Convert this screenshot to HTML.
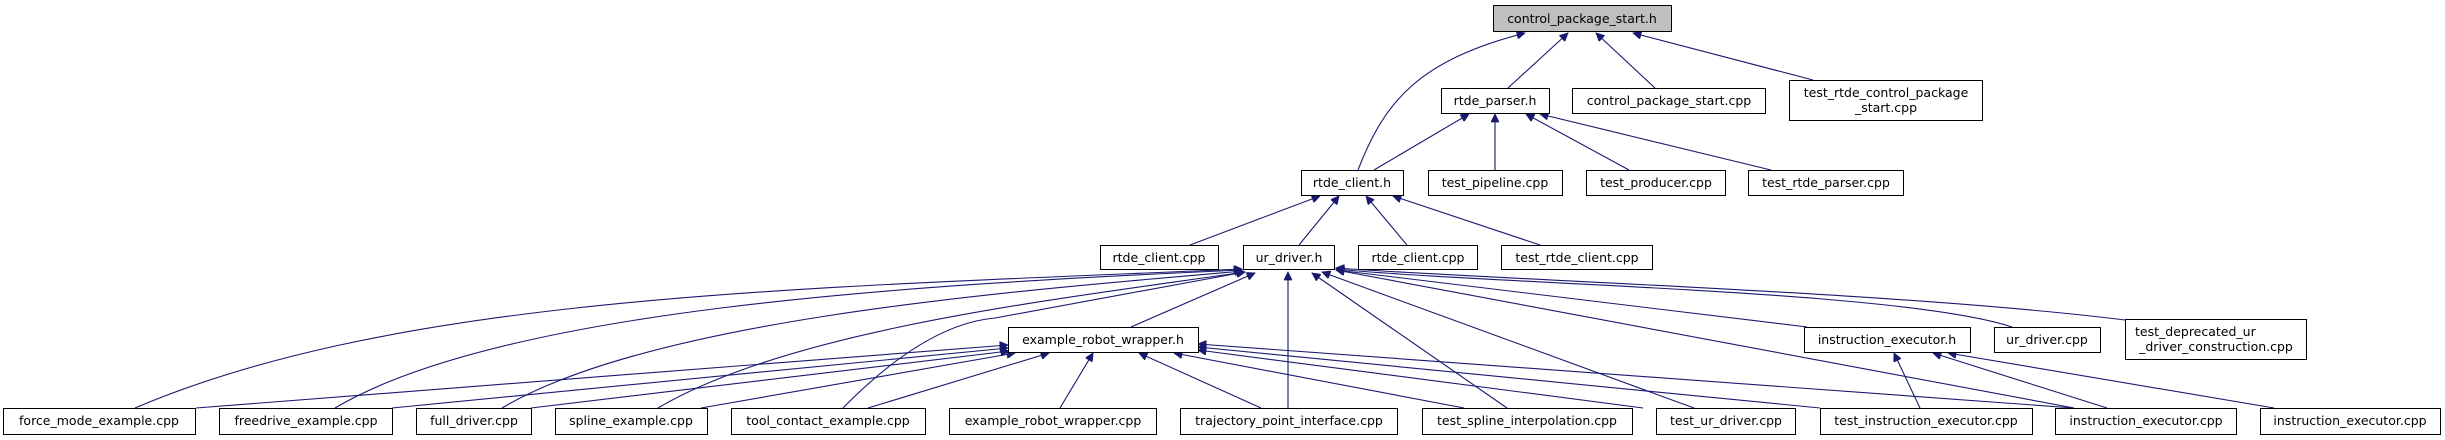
<!DOCTYPE html>
<html><head><meta charset="utf-8"><style>
html,body{margin:0;padding:0;background:#fff;}
svg{display:block;}
text{font-family:"DejaVu Sans","Liberation Sans",sans-serif;font-size:12.5px;fill:#000;}
.b{fill:#fff;stroke:#000;stroke-width:1;}
.e{fill:none;stroke:#191970;stroke-width:1.1;}
</style></head><body>
<svg width="2445" height="440" viewBox="0 0 2445 440" xmlns="http://www.w3.org/2000/svg">
<defs>
<marker id="a" viewBox="0 0 10 10" refX="10" refY="5" markerWidth="11" markerHeight="8" markerUnits="userSpaceOnUse" orient="auto">
<path d="M0,0 L10,5 L0,10 z" fill="#191970" stroke="#191970"/>
</marker>
</defs>
<g class="e" marker-end="url(#a)">
<path d="M1358,170 C1385,100 1420,60 1525,33"/>
<path d="M1508,88 L1568,33"/>
<path d="M1655,88 L1596,33"/>
<path d="M1813,80 L1633,33"/>
<path d="M1374,170 L1469,114"/>
<path d="M1495,170 L1495,114"/>
<path d="M1629,170 L1526,114"/>
<path d="M1771,170 L1540,114"/>
<path d="M1190,245 L1320,196"/>
<path d="M1299,245 L1339,196"/>
<path d="M1407,245 L1366,196"/>
<path d="M1540,245 L1393,196"/>
<path d="M135,408 C400,295 800,288 1242,269"/>
<path d="M335,408 C500,310 900,285 1242,270"/>
<path d="M502,408 C650,320 1000,292 1243,271"/>
<path d="M658,408 C790,330 1050,300 1245,272"/>
<path d="M843,408 C900,350 950,322 995,318 L1245,272"/>
<path d="M1131,327 L1255,273"/>
<path d="M1288,408 L1288,272"/>
<path d="M1507,408 L1312,273"/>
<path d="M1694,408 L1322,272"/>
<path d="M2074,408 L1336,270"/>
<path d="M1807,327 L1336,270"/>
<path d="M2012,327 C1900,290 1500,285 1336,269"/>
<path d="M2125,320 C1900,292 1500,280 1336,268"/>
<path d="M196,408 L1008,345"/>
<path d="M392,408 L1008,348"/>
<path d="M531,408 L1009,351"/>
<path d="M701,408 L1015,353"/>
<path d="M868,408 L1049,353"/>
<path d="M1060,408 L1093,353"/>
<path d="M1261,408 L1139,353"/>
<path d="M1464,408 L1174,353"/>
<path d="M1643,408 L1198,350"/>
<path d="M1820,408 L1198,347"/>
<path d="M2074,408 L1198,344"/>
<path d="M1920,408 L1894,353"/>
<path d="M2107,408 L1933,353"/>
<path d="M2274,408 L1948,353"/>
</g>
<g>
<rect x="1493.5" y="5.5" width="178" height="26" fill="#bfbfbf" stroke="#000"/>
<text x="1582" y="23" text-anchor="middle">control_package_start.h</text>

<rect class="b" x="1441.5" y="88.5" width="108" height="25"/><text x="1495" y="105" text-anchor="middle">rtde_parser.h</text>
<rect class="b" x="1572.5" y="88.5" width="193" height="25"/><text x="1669" y="105" text-anchor="middle">control_package_start.cpp</text>
<rect class="b" x="1789.5" y="80.5" width="193" height="40"/><text x="1886" y="97" text-anchor="middle">test_rtde_control_package</text><text x="1886" y="112" text-anchor="middle">_start.cpp</text>

<rect class="b" x="1301.5" y="170.5" width="102" height="25"/><text x="1352" y="187" text-anchor="middle">rtde_client.h</text>
<rect class="b" x="1428.5" y="170.5" width="134" height="25"/><text x="1495" y="187" text-anchor="middle">test_pipeline.cpp</text>
<rect class="b" x="1586.5" y="170.5" width="139" height="25"/><text x="1656" y="187" text-anchor="middle">test_producer.cpp</text>
<rect class="b" x="1748.5" y="170.5" width="155" height="25"/><text x="1826" y="187" text-anchor="middle">test_rtde_parser.cpp</text>

<rect class="b" x="1100.5" y="245.5" width="118" height="24"/><text x="1159" y="262" text-anchor="middle">rtde_client.cpp</text>
<rect class="b" x="1243.5" y="245.5" width="91" height="24"/><text x="1289" y="262" text-anchor="middle">ur_driver.h</text>
<rect class="b" x="1358.5" y="245.5" width="119" height="24"/><text x="1418" y="262" text-anchor="middle">rtde_client.cpp</text>
<rect class="b" x="1501.5" y="245.5" width="151" height="24"/><text x="1577" y="262" text-anchor="middle">test_rtde_client.cpp</text>

<rect class="b" x="1008.5" y="327.5" width="190" height="25"/><text x="1103" y="344" text-anchor="middle">example_robot_wrapper.h</text>
<rect class="b" x="1804.5" y="327.5" width="166" height="25"/><text x="1887" y="344" text-anchor="middle">instruction_executor.h</text>
<rect class="b" x="1994.5" y="327.5" width="106" height="25"/><text x="2047" y="344" text-anchor="middle">ur_driver.cpp</text>
<rect class="b" x="2125.5" y="319.5" width="181" height="40"/><text x="2135" y="336">test_deprecated_ur</text><text x="2216" y="351" text-anchor="middle">_driver_construction.cpp</text>

<rect class="b" x="3.5" y="408.5" width="192" height="26"/><text x="99" y="425" text-anchor="middle">force_mode_example.cpp</text>
<rect class="b" x="219.5" y="408.5" width="173" height="26"/><text x="306" y="425" text-anchor="middle">freedrive_example.cpp</text>
<rect class="b" x="416.5" y="408.5" width="115" height="26"/><text x="474" y="425" text-anchor="middle">full_driver.cpp</text>
<rect class="b" x="555.5" y="408.5" width="152" height="26"/><text x="631" y="425" text-anchor="middle">spline_example.cpp</text>
<rect class="b" x="731.5" y="408.5" width="194" height="26"/><text x="828" y="425" text-anchor="middle">tool_contact_example.cpp</text>
<rect class="b" x="949.5" y="408.5" width="207" height="26"/><text x="1053" y="425" text-anchor="middle">example_robot_wrapper.cpp</text>
<rect class="b" x="1180.5" y="408.5" width="217" height="26"/><text x="1289" y="425" text-anchor="middle">trajectory_point_interface.cpp</text>
<rect class="b" x="1422.5" y="408.5" width="210" height="26"/><text x="1527" y="425" text-anchor="middle">test_spline_interpolation.cpp</text>
<rect class="b" x="1656.5" y="408.5" width="139" height="26"/><text x="1726" y="425" text-anchor="middle">test_ur_driver.cpp</text>
<rect class="b" x="1820.5" y="408.5" width="212" height="26"/><text x="1926" y="425" text-anchor="middle">test_instruction_executor.cpp</text>
<rect class="b" x="2055.5" y="408.5" width="181" height="26"/><text x="2146" y="425" text-anchor="middle">instruction_executor.cpp</text>
<rect class="b" x="2260.5" y="408.5" width="180" height="26"/><text x="2350" y="425" text-anchor="middle">instruction_executor.cpp</text>
</g>
</svg>
</body></html>
